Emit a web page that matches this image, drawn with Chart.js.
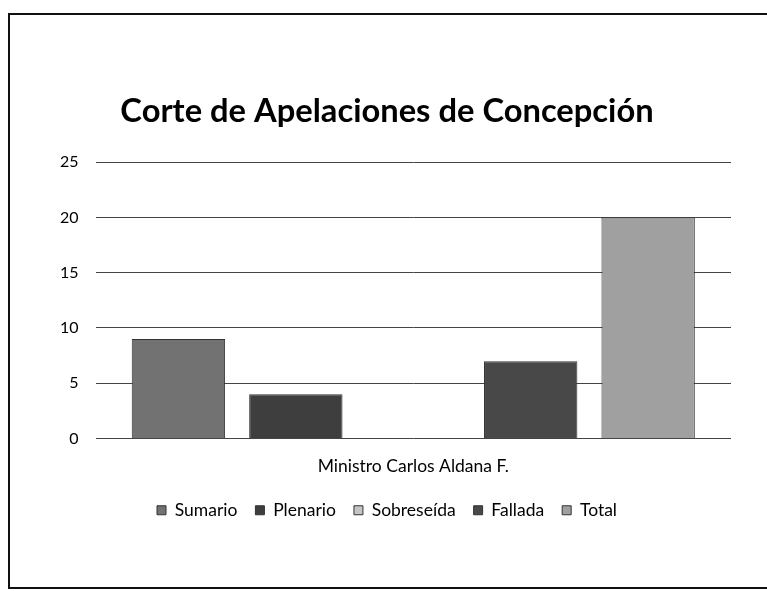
<!DOCTYPE html>
<html>
<head>
<meta charset="utf-8">
<script src="https://cdn.jsdelivr.net/npm/chart.js@4"></script>
<style>
  html, body { margin: 0; padding: 0; background: #fff; overflow: hidden; }
  #frame {
    position: absolute; left: 8px; top: 13px; width: 820px; height: 572px;
    border-left: 2px solid #111; border-top: 2px solid #111; border-bottom: 2px solid #111;
  }
  #wrap { position: absolute; left: 0; top: 0; width: 767px; height: 591px; }
</style>
</head>
<body>
<div id="frame"></div>
<div id="wrap"><canvas id="chart" width="767" height="591"></canvas></div>
<script>
const categories = ["Ministro Carlos Aldana F."];
const seriesNames = ["Sumario", "Plenario", "Sobreseída", "Fallada", "Total"];
const seriesValues = [[9], [4], [0], [7], [20]];
const seriesColors = ["#727272", "#3e3e3e", "#c4c4c4", "#484848", "#a0a0a0"];
const yTicks = [0, 5, 10, 15, 20, 25];

const ctx = document.getElementById("chart").getContext("2d");

new Chart(ctx, {
  type: "bar",
  data: {
    labels: categories,
    datasets: seriesNames.map((name, i) => ({
      label: name,
      data: seriesValues[i],
      backgroundColor: seriesColors[i],
      borderColor: "#333",
      borderWidth: 1,
      barPercentage: 0.795,
      categoryPercentage: 0.924,
    })),
  },
  options: {
    responsive: false,
    animation: false,
    layout: { padding: { left: 43, right: 36, top: 92, bottom: 62 } },
    plugins: {
      title: {
        display: true,
        text: "Corte de Apelaciones de Concepción",
        color: "#000",
        font: { family: "Lato", size: 32.7, weight: "bold" },
        padding: { top: 0, bottom: 31 },
      },
      legend: {
        position: "bottom",
        labels: {
          color: "#000",
          font: { family: "Lato", size: 17.5 },
          boxWidth: 9,
          boxHeight: 9,
          padding: 18,
        },
      },
      tooltip: { enabled: false },
    },
    scales: {
      x: {
        grid: { display: false, drawTicks: false },
        border: { display: false },
        ticks: { color: "#000", font: { family: "Lato", size: 17.5 }, padding: 17 },
        // pull the legend a bit closer to the category label
        afterFit: (axis) => { axis.height -= 10; },
      },
      y: {
        min: 0,
        max: 25,
        afterBuildTicks: (axis) => { axis.ticks = yTicks.map((v) => ({ value: v })); },
        grid: { color: "#444", lineWidth: 1, drawTicks: false },
        border: { display: false },
        ticks: { color: "#000", font: { family: "Lato", size: 16 }, padding: 17 },
      },
    },
  },
});
</script>
</body>
</html>
